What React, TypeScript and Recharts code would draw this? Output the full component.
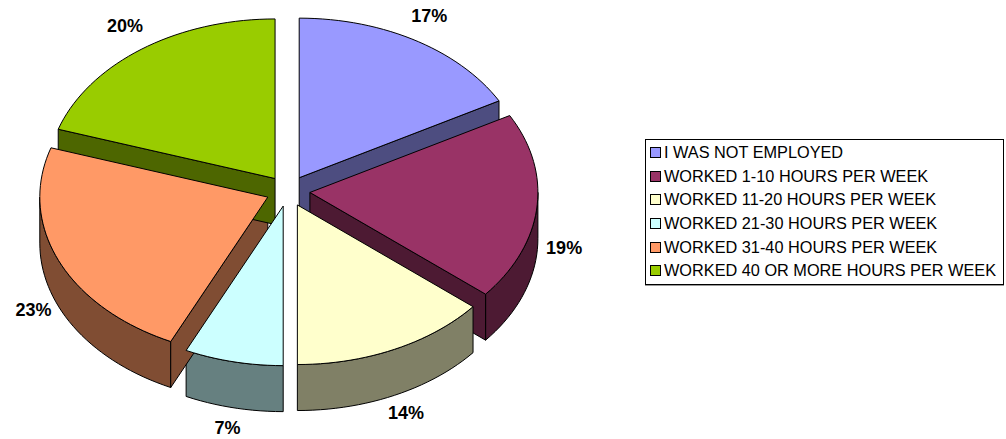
import { Cell, Legend, Pie, PieChart } from "recharts";

const CATEGORIES = [
  "I WAS NOT EMPLOYED",
  "WORKED 1-10 HOURS PER WEEK",
  "WORKED 11-20 HOURS PER WEEK",
  "WORKED 21-30 HOURS PER WEEK",
  "WORKED 31-40 HOURS PER WEEK",
  "WORKED 40 OR MORE HOURS PER WEEK",
];
const PERCENTS = [17, 19, 14, 7, 23, 20];

const TOP_COLORS = ["#9999FF", "#993366", "#FFFFCC", "#CCFFFF", "#FF9966", "#99CC00"];
const SIDE_COLORS = ["#4D4D80", "#4D1A33", "#808066", "#668080", "#804D33", "#4D6600"];

// 3d look
const TILT = 0.7;
const DEPTH = 46;
const EXPLODE = 22;
const RAD = Math.PI / 180;

const data = CATEGORIES.map((name, i) => ({ name, value: PERCENTS[i] }));

function origin(cx: number, cy: number, mid: number) {
  return {
    x: cx + EXPLODE * Math.cos(mid * RAD),
    y: cy - EXPLODE * TILT * Math.sin(mid * RAD),
  };
}

function rim(o: { x: number; y: number }, r: number, a: number, dy = 0) {
  return [o.x + r * Math.cos(a * RAD), o.y - r * TILT * Math.sin(a * RAD) + dy];
}

function arcPoints(o: { x: number; y: number }, r: number, from: number, to: number, dy = 0) {
  const n = Math.max(2, Math.ceil(Math.abs(to - from) / 2));
  const pts: number[][] = [];
  for (let i = 0; i <= n; i++) pts.push(rim(o, r, from + ((to - from) * i) / n, dy));
  return pts;
}

const toPath = (pts: number[][]) =>
  "M" + pts.map((p) => `${p[0].toFixed(2)},${p[1].toFixed(2)}`).join("L") + "Z";

function sliceGeom(props: any) {
  const { cx, cy, outerRadius, startAngle, endAngle } = props;
  const a1 = Math.min(startAngle, endAngle);
  const a2 = Math.max(startAngle, endAngle);
  const mid = (a1 + a2) / 2;
  const o = origin(cx, cy, mid);
  const idx = CATEGORIES.indexOf(props.payload?.name ?? props.name);
  return { a1, a2, mid, o, r: outerRadius, idx };
}

const SideShape = (props: any) => {
  const { a1, a2, o, r, idx } = sliceGeom(props);
  const fill = SIDE_COLORS[idx];
  const faces: string[] = [];
  // front half of the rim
  for (let k = -2; k <= 1; k++) {
    const lo = Math.max(a1, -180 + 360 * k);
    const hi = Math.min(a2, 360 * k);
    if (hi > lo) {
      const top = arcPoints(o, r, lo, hi);
      const bottom = arcPoints(o, r, hi, lo, DEPTH);
      faces.push(toPath([...top, ...bottom]));
    }
  }
  if (Math.cos(a1 * RAD) > 0.001) {
    const p = rim(o, r, a1);
    faces.push(toPath([[o.x, o.y], p, [p[0], p[1] + DEPTH], [o.x, o.y + DEPTH]]));
  }
  if (Math.cos(a2 * RAD) < -0.001) {
    const p = rim(o, r, a2);
    faces.push(toPath([[o.x, o.y], p, [p[0], p[1] + DEPTH], [o.x, o.y + DEPTH]]));
  }
  return (
    <g>
      {faces.map((d, i) => (
        <path key={i} d={d} fill={fill} stroke="#000" strokeWidth={1} strokeLinejoin="round" />
      ))}
    </g>
  );
};

const TopShape = (props: any) => {
  const { a1, a2, o, r, idx } = sliceGeom(props);
  const d = toPath([[o.x, o.y], ...arcPoints(o, r, a1, a2)]);
  return <path d={d} fill={TOP_COLORS[idx]} stroke="#000" strokeWidth={1} strokeLinejoin="round" />;
};

const renderLabel = (props: any) => {
  const { cx, cy, midAngle, outerRadius, value } = props;
  const o = origin(cx, cy, midAngle);
  const s = Math.sin(midAngle * RAD);
  const x = o.x + 1.12 * outerRadius * Math.cos(midAngle * RAD);
  const y = o.y - 1.18 * outerRadius * TILT * s + (s < 0 ? DEPTH - 8 : 0);
  return (
    <text
      x={x}
      y={y}
      textAnchor="middle"
      dominantBaseline="central"
      fontFamily="Liberation Sans, Arial, sans-serif"
      fontWeight="bold"
      fontSize={18}
      fill="#000"
    >
      {`${value}%`}
    </text>
  );
};

const LegendBox = ({ payload }: any) => {
  const seen = new Set<string>();
  const items = (payload ?? []).filter((e: any) => {
    if (e.type === "none" || seen.has(e.value)) return false;
    seen.add(e.value);
    return true;
  });
  return (
    <div
      style={{
        border: "1px solid #000",
        boxShadow: "0 1px 0 #999",
        padding: "1px 4px",
        background: "#fff",
        fontFamily: "Liberation Sans, Arial, sans-serif",
        fontSize: 16.3,
        color: "#000",
      }}
    >
      {items.map((entry: any, i: number) => (
        <div key={i} style={{ display: "flex", alignItems: "center", height: 23.6, whiteSpace: "nowrap" }}>
          <span
            style={{
              display: "inline-block",
              width: 9,
              height: 9,
              border: "1px solid #000",
              background: TOP_COLORS[CATEGORIES.indexOf(entry.value)],
              marginRight: 3,
            }}
          />
          {entry.value}
        </div>
      ))}
    </div>
  );
};

export default function App() {
  return (
    <div style={{ position: "absolute", left: 0, top: 0, background: "#fff" }}>
      <PieChart width={1006} height={439}>
        <Pie
          data={data}
          dataKey="value"
          nameKey="name"
          cx={283}
          cy={186}
          outerRadius={228}
          startAngle={90}
          endAngle={-270}
          stroke="none"
          legendType="none"
          shape={SideShape}
          isAnimationActive={false}
        >
          {data.map((d, i) => (
            <Cell key={d.name} fill={SIDE_COLORS[i]} />
          ))}
        </Pie>
        <Pie
          data={data}
          dataKey="value"
          nameKey="name"
          cx={283}
          cy={186}
          outerRadius={228}
          startAngle={90}
          endAngle={-270}
          stroke="none"
          shape={TopShape}
          label={renderLabel}
          labelLine={false}
          isAnimationActive={false}
        >
          {data.map((d, i) => (
            <Cell key={d.name} fill={TOP_COLORS[i]} />
          ))}
        </Pie>
        <Legend
          layout="vertical"
          content={LegendBox}
          wrapperStyle={{ position: "absolute", left: 645, top: 139, width: 359 }}
        />
      </PieChart>
    </div>
  );
}
